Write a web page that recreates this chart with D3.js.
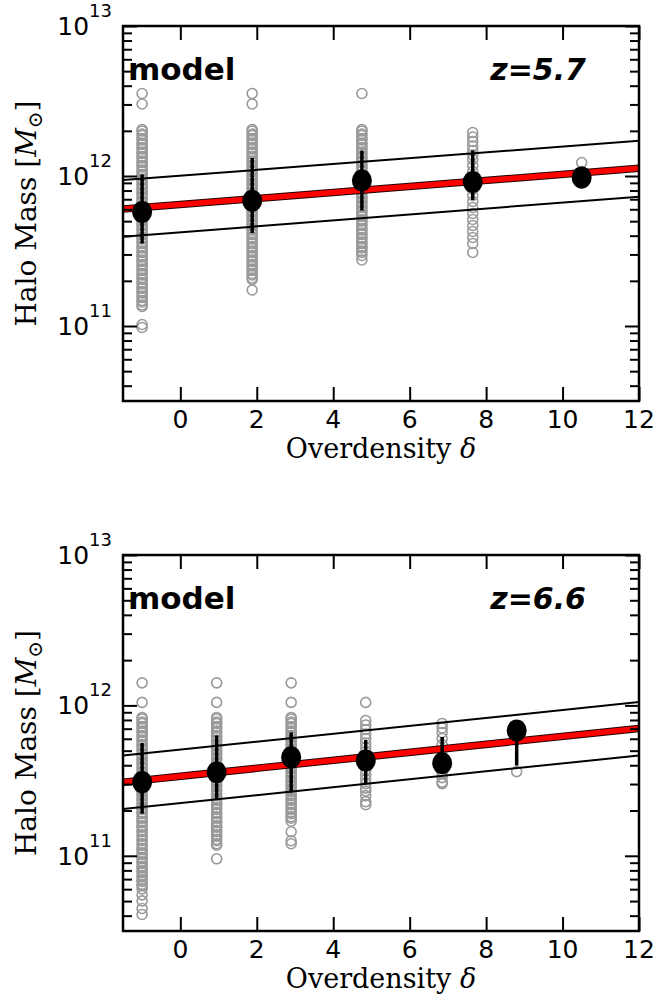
<!DOCTYPE html>
<html>
<head>
<meta charset="utf-8">
<script src="https://cdn.jsdelivr.net/npm/d3@7"></script>
<style>
  html, body { margin: 0; padding: 0; background: #fff; }
  svg { display: block; }
  .tick-lbl { font-family: "DejaVu Sans", sans-serif; font-size: 25px; fill: #000; }
  .ax-title { font-family: "DejaVu Serif", serif; font-size: 27px; fill: #000; }
  .panel-txt { font-family: "DejaVu Sans", sans-serif; font-weight: bold; font-size: 30px; fill: #000; }
</style>
</head>
<body>
<script>
// overdensity bins and log10(halo mass)
const xTicks = [0, 2, 4, 6, 8, 10, 12];
const yMajorExp = [11, 12, 13];
const fitX = [-1.5, 12];

// the packed part of each column (many overlapping haloes), log10 M
const packed = [12.31,12.30,12.28,12.27,12.25,12.24,12.22,12.21,12.19,12.18,12.16,12.15,12.13,12.12,12.10,12.09,12.07,12.06,12.04,12.03,12.01,12.00,11.98,11.97,11.95,11.94,11.92,11.91,11.89,11.88,11.86,11.85,11.83,11.82,11.80,11.79,11.77,11.76,11.74,11.73,11.71,11.70,11.68,11.67,11.65,11.64,11.62,11.61,11.59,11.58,11.56,11.55,11.53,11.52,11.50,11.49,11.47,11.46,11.44,11.43,11.41,11.40,11.38,11.37,11.35,11.34,11.32,11.31,11.29,11.28,11.26,11.25,11.23,11.22,11.20,11.19,11.17,11.16,11.14,11.13,11.11,11.10,11.08,11.07,11.05,11.04,11.02,11.01,10.99,10.98,10.96,10.95,10.93,10.92,10.90,10.89,10.87,10.86,10.84,10.83,10.81,10.80,10.78];
const band = (hi, lo) => packed.filter(v => v <= hi && v >= lo);

// ---- z = 5.7 ----
const binX57 = [-1.0, 1.88, 4.75, 7.65, 10.5];
const halo57 = [
  [12.55, 12.48, ...band(12.31, 11.13), 11.01, 10.99],
  [12.55, 12.48, ...band(12.31, 11.30), 11.24],
  [12.55, ...band(12.31, 11.49), 11.47, 11.44],
  [12.29,12.26,12.23,12.20,12.17,12.14,12.11,12.07,12.03,11.99,11.95,11.91,11.87,11.83,11.79,11.75,11.71,11.67,11.63,11.59,11.55,11.49],
  [12.09,12.03,11.98,11.95]
];
const mean57 = [11.76, 11.835, 11.97, 11.96, 11.99];
const errHi57 = [12.01, 12.12, 12.17, 12.17, 12.06];
const errLo57 = [11.55, 11.62, 11.77, 11.84, 11.96];
const fit57 = [11.78, 12.051];
const fitHi57 = [11.973, 12.235];
const fitLo57 = [11.595, 11.862];

// ---- z = 6.6 ----
const binX66 = [-1.0, 0.95, 2.9, 4.85, 6.85, 8.8];
const halo66 = [
  [12.15, 12.02, ...band(11.92, 10.78), 10.74, 10.70, 10.65, 10.61],
  [12.15, 12.02, ...band(11.92, 11.07), 10.98],
  [12.15, 12.02, ...band(11.92, 11.23), 11.16, 11.10, 11.08],
  [12.02,11.90,11.87,11.84,11.81,11.78,11.75,11.72,11.69,11.66,11.63,11.60,11.57,11.54,11.51,11.48,11.45,11.43,11.40,11.36,11.34],
  [11.88,11.85,11.82,11.78,11.74,11.70,11.66,11.62,11.58,11.55,11.52,11.49,11.48],
  [11.85,11.56]
];
const mean66 = [11.49, 11.555, 11.655, 11.633, 11.615, 11.833];
const errHi66 = [11.75, 11.80, 11.82, 11.77, 11.79, 11.84];
const errLo66 = [11.28, 11.38, 11.42, 11.48, 11.57, 11.60];
const fit66 = [11.489, 11.847];
const fitHi66 = [11.667, 12.022];
const fitLo66 = [11.311, 11.667];

const panels = [
  {label: "z=5.7", top: 26, bottom: 401, binX: binX57, halo: halo57, mean: mean57, hi: errHi57, lo: errLo57, fit: fit57, fitHi: fitHi57, fitLo: fitLo57},
  {label: "z=6.6", top: 555, bottom: 931, binX: binX66, halo: halo66, mean: mean66, hi: errHi66, lo: errLo66, fit: fit66, fitHi: fitHi66, fitLo: fitLo66}
];

const width = 662, height = 1003;
const left = 123, right = 639;

const svg = d3.select("body").append("svg")
  .attr("width", width)
  .attr("height", height);

const x = d3.scaleLinear().domain([-1.5, 12]).range([left, right]);
const p10 = v => Math.pow(10, v);

panels.forEach(p => {
  const y = d3.scaleLog().domain([p10(10.5), 1e13]).range([p.bottom, p.top]);
  const g = svg.append("g");

  const clipId = "clip" + p.top;
  svg.append("clipPath").attr("id", clipId)
    .append("rect")
    .attr("x", left).attr("y", p.top)
    .attr("width", right - left).attr("height", p.bottom - p.top);

  const plot = g.append("g").attr("clip-path", "url(#" + clipId + ")");

  // halo scatter
  p.halo.forEach((col, i) => {
    plot.append("g").selectAll("circle")
      .data(col)
      .enter().append("circle")
      .attr("cx", x(p.binX[i]))
      .attr("cy", d => y(p10(d)))
      .attr("r", 5)
      .attr("fill", "none")
      .attr("stroke", "#9a9a9a")
      .attr("stroke-width", 1.6);
  });

  // fit + scatter lines
  const line = d3.line().x(d => x(d[0])).y(d => y(p10(d[1])));
  [p.fitHi, p.fitLo].forEach(f => {
    plot.append("path")
      .attr("d", line(fitX.map((v, k) => [v, f[k]])))
      .attr("stroke", "#000").attr("stroke-width", 2).attr("fill", "none");
  });
  plot.append("path")
    .attr("d", line(fitX.map((v, k) => [v, p.fit[k]])))
    .attr("stroke", "#200").attr("stroke-width", 7.5).attr("fill", "none");
  plot.append("path")
    .attr("d", line(fitX.map((v, k) => [v, p.fit[k]])))
    .attr("stroke", "#f00").attr("stroke-width", 5.5).attr("fill", "none");

  // error bars and means
  plot.append("g").selectAll("line")
    .data(p.binX)
    .enter().append("line")
    .attr("x1", d => x(d)).attr("x2", d => x(d))
    .attr("y1", (d, i) => y(p10(p.hi[i])))
    .attr("y2", (d, i) => y(p10(p.lo[i])))
    .attr("stroke", "#000").attr("stroke-width", 3.5);

  plot.append("g").selectAll("ellipse")
    .data(p.binX)
    .enter().append("ellipse")
    .attr("cx", d => x(d))
    .attr("cy", (d, i) => y(p10(p.mean[i])))
    .attr("rx", 10).attr("ry", 11)
    .attr("fill", "#000");

  // ticks, inward on all four sides
  const minor = y.ticks().filter(v => !yMajorExp.some(e => Math.abs(Math.log10(v) - e) < 1e-6));
  const major = yMajorExp.map(p10);
  const mkAxis = (axisFn, scale, vals, size, tx) => {
    g.append("g")
      .attr("transform", tx)
      .call(axisFn(scale).tickValues(vals).tickSize(size).tickFormat(""))
      .call(a => a.select(".domain").remove())
      .call(a => a.selectAll("line").attr("stroke", "#000").attr("stroke-width", 2));
  };
  mkAxis(d3.axisLeft, y, minor, -9, `translate(${left},0)`);
  mkAxis(d3.axisLeft, y, major, -14, `translate(${left},0)`);
  mkAxis(d3.axisRight, y, minor, -9, `translate(${right},0)`);
  mkAxis(d3.axisRight, y, major, -14, `translate(${right},0)`);
  mkAxis(d3.axisBottom, x, xTicks, -14, `translate(0,${p.bottom})`);
  mkAxis(d3.axisTop, x, xTicks, -14, `translate(0,${p.top})`);

  g.append("rect")
    .attr("x", left).attr("y", p.top)
    .attr("width", right - left).attr("height", p.bottom - p.top)
    .attr("fill", "none").attr("stroke", "#000").attr("stroke-width", 2.5);

  // tick labels
  g.append("g").selectAll("text")
    .data(xTicks)
    .enter().append("text")
    .attr("class", "tick-lbl")
    .attr("x", d => x(d))
    .attr("y", p.bottom + 27)
    .attr("text-anchor", "middle")
    .text(d => d);

  const yl = g.append("g").selectAll("text")
    .data(yMajorExp)
    .enter().append("text")
    .attr("class", "tick-lbl")
    .attr("x", left - 11)
    .attr("y", d => y(p10(d)) + 9)
    .attr("text-anchor", "end");
  yl.append("tspan").text("10");
  yl.append("tspan").attr("dy", -18).attr("font-size", 18).text(d => d);

  // axis titles
  const xt = g.append("text")
    .attr("class", "ax-title")
    .attr("x", (left + right) / 2)
    .attr("y", p.bottom + 57)
    .attr("text-anchor", "middle");
  xt.append("tspan").text("Overdensity ");
  xt.append("tspan").attr("font-style", "italic").text("δ");

  const yt = g.append("text")
    .attr("class", "ax-title")
    .attr("transform", `translate(36,${(p.top + p.bottom) / 2}) rotate(-90)`)
    .attr("text-anchor", "middle")
    .style("font-size", "28px");
  yt.append("tspan").text("Halo Mass [");
  yt.append("tspan").attr("font-style", "italic").text("M");
  yt.append("tspan").attr("dy", 6).attr("font-size", 20).text("⊙");
  yt.append("tspan").attr("dy", -6).text("]");

  // panel annotations
  g.append("text")
    .attr("class", "panel-txt")
    .attr("x", left + 5)
    .attr("y", p.top + 54)
    .style("font-size", "31px")
    .text("model");
  g.append("text")
    .attr("class", "panel-txt")
    .attr("font-style", "italic")
    .attr("x", left + 463)
    .attr("y", p.top + 54)
    .attr("text-anchor", "end")
    .text(p.label);
});
</script>
</body>
</html>
